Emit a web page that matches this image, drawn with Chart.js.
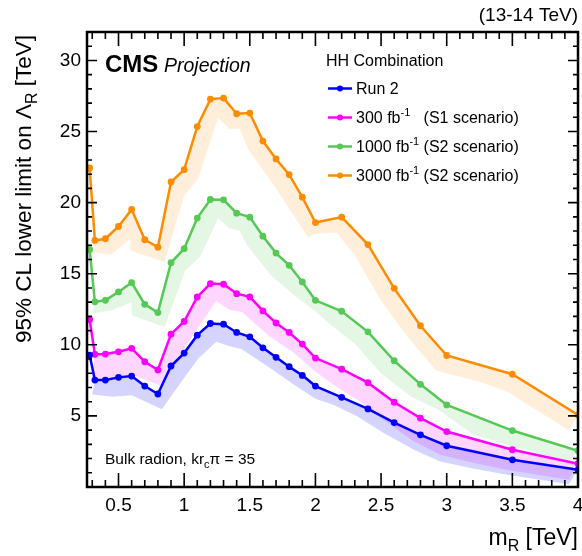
<!DOCTYPE html>
<html>
  <head>
    <meta charset="utf-8">
    <title>HH combination - bulk radion limits</title>
  </head>
  <style media="screen">
    body { margin: 0; background: #fff; }
  </style>
  <body>
    <canvas id="lim" width="582" height="556"></canvas>
    <script src="https://cdn.jsdelivr.net/npm/chart.js@4/dist/chart.umd.min.js"></script>
    <script type="text/javascript">
      // resonance mass points [TeV]
      let mass = [0.28, 0.32, 0.4, 0.5, 0.6, 0.7, 0.8, 0.9, 1.0, 1.1, 1.2, 1.3, 1.4, 1.5,
                  1.6, 1.7, 1.8, 1.9, 2.0, 2.2, 2.4, 2.6, 2.8, 3.0, 3.5, 4.0];

      // lower limits on Lambda_R [TeV]
      let run2   = [9.28, 7.52, 7.52, 7.71, 7.80, 7.10, 6.54, 8.51, 9.42, 10.68, 11.50, 11.45, 10.87,
                    10.56, 9.79, 9.12, 8.46, 7.85, 7.10, 6.31, 5.49, 4.53, 3.67, 2.90, 1.91, 1.21];
      let lumi300  = [11.78, 9.33, 9.35, 9.51, 9.75, 8.81, 8.23, 10.75, 11.64, 13.37, 14.31, 14.26, 13.60,
                      13.37, 12.38, 11.54, 10.87, 10.05, 9.07, 8.29, 7.34, 5.96, 4.84, 3.90, 2.62, 1.64];
      let lumi1000 = [16.71, 13.02, 13.13, 13.72, 14.38, 12.85, 12.27, 15.78, 16.76, 18.91, 20.22, 20.20, 19.26,
                      18.98, 17.64, 16.45, 15.59, 14.42, 13.13, 12.36, 10.91, 8.88, 7.22, 5.77, 3.97, 2.55];
      let lumi3000 = [22.44, 17.34, 17.46, 18.32, 19.52, 17.39, 16.87, 21.45, 22.32, 25.35, 27.28, 27.35, 26.25,
                      26.30, 24.33, 23.07, 21.97, 20.38, 18.60, 18.98, 17.05, 13.97, 11.34, 9.25, 7.93, 5.07];

      // lower edge of each shaded band, [mass, limit]
      let run2Low = [[0.30, 6.5], [0.45, 6.35], [0.60, 6.45], [0.83, 5.47], [1.01, 7.8], [1.11, 9.05],
                     [1.245, 10.21], [1.34, 9.91], [1.44, 9.68], [1.64, 8.46], [1.84, 7.17], [2.0, 6.2],
                     [2.14, 5.77], [2.32, 4.95], [2.52, 3.79], [2.75, 2.62], [2.95, 1.80], [3.2, 1.3],
                     [3.46, 0.86], [3.93, 0.2]];
      let lumi300Low = [[0.30, 7.6], [0.45, 7.6], [0.60, 7.9], [0.83, 7.1], [1.01, 9.86], [1.11, 11.26],
                        [1.245, 13.08], [1.34, 12.48], [1.44, 12.31], [1.64, 10.68], [1.84, 9.4], [2.0, 8.1],
                        [2.14, 7.17], [2.32, 6.12], [2.52, 4.72], [2.75, 3.2], [2.95, 2.27], [3.2, 1.7],
                        [3.46, 1.2], [3.93, 0.51]];
      let lumi1000Low = [[0.30, 12.2], [0.45, 12.43], [0.60, 13.0], [0.60, 12.08], [0.85, 11.26], [1.01, 15.24],
                         [1.12, 16.17], [1.26, 18.91], [1.34, 18.2], [1.42, 18.04], [1.48, 17.0], [1.66, 14.89],
                         [1.85, 13.4], [1.99, 12.43], [2.12, 11.38], [2.3, 10.1], [2.5, 7.99], [2.73, 6.35],
                         [2.94, 5.42], [3.2, 3.7], [3.46, 2.97], [3.93, 1.8]];
      let lumi3000Low = [[0.30, 16.5], [0.445, 16.36], [0.59, 17.46], [0.59, 16.64], [0.85, 15.82], [1.0, 20.5],
                         [1.105, 21.67], [1.258, 25.95], [1.347, 25.17], [1.423, 25.22], [1.486, 23.77],
                         [1.677, 21.31], [1.944, 17.57], [2.0, 17.8], [2.16, 17.9], [2.3, 16.3], [2.5, 13.1],
                         [2.7, 10.56], [2.92, 8.2], [3.25, 7.4], [3.46, 6.7], [3.93, 4.0]];

      let xTicks = [0.5, 1, 1.5, 2, 2.5, 3, 3.5, 4];
      let xTickLabels = ['0.5', '1', '1.5', '2', '2.5', '3', '3.5', '4'];
      let yTicks = [5, 10, 15, 20, 25, 30];
      let yTickLabels = ['5', '10', '15', '20', '25', '30'];

      const FONT = '"Liberation Sans", Arial, Helvetica, sans-serif';

      let series = [
        { name: ['Run 2'], vals: run2, low: run2Low, color: '#0000ff', band: 'rgba(0,0,255,0.17)' },
        { name: ['300 fb', '-1', '   (S1 scenario)'], vals: lumi300, low: lumi300Low, color: '#ff00ff', band: 'rgba(255,0,255,0.16)' },
        { name: ['1000 fb', '-1', ' (S2 scenario)'], vals: lumi1000, low: lumi1000Low, color: '#55c855', band: 'rgba(90,200,90,0.16)' },
        { name: ['3000 fb', '-1', ' (S2 scenario)'], vals: lumi3000, low: lumi3000Low, color: '#ff8c00', band: 'rgba(255,140,0,0.15)' }
      ];

      let datasets = [];
      series.forEach(s => {
        // band: the curve (from the 2nd point) forward, its lower edge backward
        let top = mass.slice(1).map((m, i) => ({ x: m, y: s.vals[i + 1] }));
        let bottom = s.low.slice().reverse().map(p => ({ x: p[0], y: p[1] }));
        datasets.push({
          data: top.concat(bottom), fill: 'shape', backgroundColor: s.band,
          borderWidth: 0, pointRadius: 0, order: 2
        });
      });
      series.forEach(s => {
        datasets.push({
          data: mass.map((m, i) => ({ x: m, y: s.vals[i] })),
          borderColor: s.color, backgroundColor: s.color, borderWidth: 2.5,
          pointRadius: 3.4, pointBorderWidth: 0, pointBackgroundColor: s.color,
          fill: false, order: 1
        });
      });

      function drawRich(ctx, parts, x, y, align) {
        let w = 0;
        parts.forEach(p => { ctx.font = p.f; w += ctx.measureText(p.t).width; });
        let cx = align === 'right' ? x - w : x;
        parts.forEach(p => {
          ctx.font = p.f;
          ctx.fillText(p.t, cx, y + (p.dy || 0));
          cx += ctx.measureText(p.t).width;
        });
      }

      let decor = {
        id: 'decor',
        afterDatasetsDraw(chart) {
          let { ctx, chartArea: a, scales: { x, y } } = chart;
          ctx.save();
          ctx.strokeStyle = '#000';
          ctx.lineWidth = 1.6;
          ctx.beginPath();
          for (let k = 3; k <= 40; k++) {
            let px = x.getPixelForValue(k / 10);
            let len = k % 5 === 0 ? 14 : 7;
            ctx.moveTo(px, a.bottom); ctx.lineTo(px, a.bottom - len);
            ctx.moveTo(px, a.top); ctx.lineTo(px, a.top + len);
          }
          for (let v = 1; v <= 31; v++) {
            let py = y.getPixelForValue(v);
            let len = v % 5 === 0 ? 10 : 5;
            ctx.moveTo(a.left, py); ctx.lineTo(a.left + len, py);
            ctx.moveTo(a.right, py); ctx.lineTo(a.right - len, py);
          }
          ctx.stroke();
          ctx.lineWidth = 2.5;
          ctx.strokeRect(a.left, a.top, a.right - a.left, a.bottom - a.top);
          ctx.restore();
        },
        afterDraw(chart) {
          let { ctx, chartArea: a } = chart;
          ctx.save();
          ctx.fillStyle = '#000';
          ctx.textBaseline = 'alphabetic';

          ctx.textAlign = 'left';
          drawRich(ctx, [{ t: '(13-14 TeV)', f: '19px ' + FONT }], a.right, 21, 'right');
          drawRich(ctx, [{ t: 'CMS', f: 'bold 24px ' + FONT }], 105, 72);
          drawRich(ctx, [{ t: 'Projection', f: 'italic 19.5px ' + FONT }], 164, 72);

          // legend
          drawRich(ctx, [{ t: 'HH Combination', f: '16px ' + FONT }], 326, 66);
          series.forEach((s, i) => {
            let by = 94 + i * 29;
            let ly = by - 5.5;
            ctx.strokeStyle = s.color;
            ctx.lineWidth = 2.5;
            ctx.beginPath(); ctx.moveTo(328, ly); ctx.lineTo(352, ly); ctx.stroke();
            ctx.fillStyle = s.color;
            ctx.beginPath(); ctx.arc(340, ly, 3, 0, 2 * Math.PI); ctx.fill();
            ctx.fillStyle = '#000';
            let parts = [{ t: s.name[0], f: '16px ' + FONT }];
            if (s.name.length > 1) {
              parts.push({ t: s.name[1], f: '11px ' + FONT, dy: -7 });
              parts.push({ t: s.name[2], f: '16px ' + FONT });
            }
            drawRich(ctx, parts, 356, by);
          });

          drawRich(ctx, [
            { t: 'Bulk radion, kr', f: '15.5px ' + FONT },
            { t: 'c', f: '11px ' + FONT, dy: 4 },
            { t: '\u03c0 = 35', f: '15.5px ' + FONT }
          ], 105, 464);

          // axis titles
          drawRich(ctx, [
            { t: 'm', f: '23px ' + FONT },
            { t: 'R', f: '16px ' + FONT, dy: 6 },
            { t: ' [TeV]', f: '23px ' + FONT }
          ], a.right, 545, 'right');

          ctx.translate(31, 35);
          ctx.rotate(-Math.PI / 2);
          drawRich(ctx, [
            { t: '95% CL lower limit on \u039b', f: '22.5px ' + FONT },
            { t: 'R', f: '16px ' + FONT, dy: 6 },
            { t: ' [TeV]', f: '22.5px ' + FONT }
          ], 0, 0, 'right');
          ctx.restore();
        }
      };

      Chart.defaults.font.family = FONT;
      Chart.defaults.color = '#000';

      new Chart(document.querySelector('#lim'), {
        type: 'line',
        data: { datasets: datasets },
        plugins: [decor],
        options: {
          responsive: false,
          animation: false,
          devicePixelRatio: 1,
          events: [],
          layout: { padding: { left: 0, top: 32, right: 4, bottom: 29 } },
          plugins: { legend: { display: false }, tooltip: { enabled: false } },
          scales: {
            x: {
              type: 'linear', min: 0.26, max: 4,
              grid: { display: false, drawTicks: false }, border: { display: false },
              ticks: { font: { size: 19 }, padding: 7, maxRotation: 0, autoSkip: false,
                       callback: (v, i) => xTickLabels[i] },
              afterBuildTicks: s => { s.ticks = xTicks.map(v => ({ value: v })); },
              afterFit: s => { s.height = 40; s.paddingLeft = 0; s.paddingRight = 0; }
            },
            y: {
              type: 'linear', min: 0, max: 32,
              grid: { display: false, drawTicks: false }, border: { display: false },
              ticks: { font: { size: 19 }, padding: 6, autoSkip: false,
                       callback: (v, i) => yTickLabels[i] },
              afterBuildTicks: s => { s.ticks = yTicks.map(v => ({ value: v })); },
              afterFit: s => { s.width = 87; s.paddingTop = 0; s.paddingBottom = 0; }
            }
          }
        }
      });
    </script>
  </body>
</html>
